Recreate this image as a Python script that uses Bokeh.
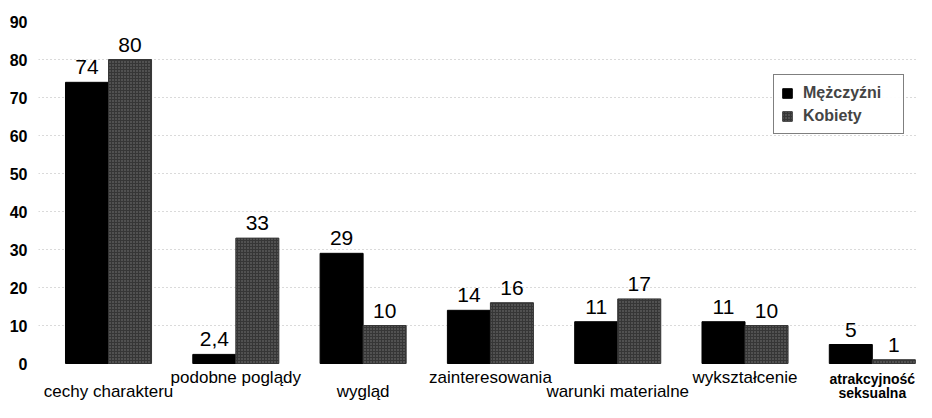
from bokeh.plotting import figure
from bokeh.models import ColumnDataSource, Range1d, FixedTicker, Legend, LegendItem
from bokeh.transform import dodge
from bokeh.core.properties import value
from bokeh.embed import file_html
from bokeh.resources import INLINE

categories = ["cechy charakteru", "podobne poglądy", "wygląd", "zainteresowania",
              "warunki materialne", "wykształcenie", "atrakcyjność\nseksualna"]
men = [74, 2.4, 29, 14, 11, 11, 5]
women = [80, 33, 10, 16, 17, 10, 1]
men_labels = ["74", "2,4", "29", "14", "11", "11", "5"]
women_labels = ["80", "33", "10", "16", "17", "10", "1"]
series = ["Mężczyźni", "Kobiety"]
y_ticks = [0, 10, 20, 30, 40, 50, 60, 70, 80, 90]
grid_ticks = [10, 20, 30, 40, 50, 60, 70, 80]
label_row = [0, 1, 0, 1, 0, 1]  # staggered rows for the first six category labels

FONT = "Liberation Sans"
BW = 0.338

xs = list(range(len(categories)))
src = ColumnDataSource(dict(x=xs, men=men, women=women, ml=men_labels, wl=women_labels))

p = figure(width=916, height=402, output_backend="svg", toolbar_location=None,
           x_range=Range1d(-0.55, 6.347), y_range=Range1d(-10.26, 95.53),
           x_axis_location=None, min_border_left=38, min_border_right=0,
           min_border_top=0, min_border_bottom=0)
p.outline_line_color = None
p.background_fill_color = "white"
p.border_fill_color = "white"
p.xgrid.visible = False

ax = p.yaxis[0]
ax.ticker = FixedTicker(ticks=y_ticks)
ax.axis_line_color = None
ax.major_tick_line_color = None
ax.minor_tick_line_color = None
ax.major_tick_out = 0
ax.major_label_standoff = 11
ax.major_label_text_font = FONT
ax.major_label_text_font_style = "bold"
ax.major_label_text_font_size = "16px"
ax.major_label_text_color = "black"

p.ygrid.ticker = FixedTicker(ticks=grid_ticks)
p.ygrid.grid_line_color = "#b5b5b5"
p.ygrid.grid_line_dash = "1 3"
p.ygrid.grid_line_width = 1

r_m = p.vbar(x=dodge("x", -BW / 2), top="men", width=BW, source=src,
             fill_color="black", line_color="black")
r_w = p.vbar(x=dodge("x", BW / 2), top="women", width=BW, source=src,
             fill_color="#363636", line_color="#363636",
             hatch_pattern="dot", hatch_color="#8a8a8a", hatch_scale=3, hatch_alpha=0.8)

p.text(x=dodge("x", -BW / 2), y="men", text="ml", source=src, text_align="center",
       text_baseline="bottom", y_offset=-8, text_font=value(FONT),
       text_font_size="21px", text_color="black")
p.text(x=dodge("x", BW / 2), y="women", text="wl", source=src, text_align="center",
       text_baseline="bottom", y_offset=-8, text_font=value(FONT),
       text_font_size="21px", text_color="black")

# category labels (staggered)
row_y = [-9.74, -6.05]
cat_src = ColumnDataSource(dict(
    x=xs[:6], y=[row_y[r] for r in label_row], t=categories[:6]))
p.text(x="x", y="y", text="t", source=cat_src, text_align="center",
       text_baseline="bottom", text_font=value(FONT), text_font_size="17px",
       text_color="black")
last_lines = categories[6].split("\n")
last_src = ColumnDataSource(dict(x=[xs[6]] * len(last_lines), y=[-6.05, -9.74], t=last_lines))
p.text(x="x", y="y", text="t", source=last_src, text_align="center",
       text_baseline="bottom", text_font=value(FONT), text_font_size="14px",
       text_font_style="bold", text_color="black")

legend = Legend(items=[LegendItem(label=series[0], renderers=[r_m]),
                       LegendItem(label=series[1], renderers=[r_w])],
                location=(735, 268))
legend.border_line_color = "black"
legend.border_line_width = 1
legend.background_fill_color = "white"
legend.label_text_font = FONT
legend.label_text_font_style = "bold"
legend.label_text_font_size = "16px"
legend.glyph_width = 12
legend.glyph_height = 12
legend.label_height = 21
legend.label_width = 93
legend.label_standoff = 10
legend.spacing = 2
legend.padding = 7
legend.margin = 0
p.add_layout(legend, "center")

open("out.html", "w").write(file_html(p, INLINE))
